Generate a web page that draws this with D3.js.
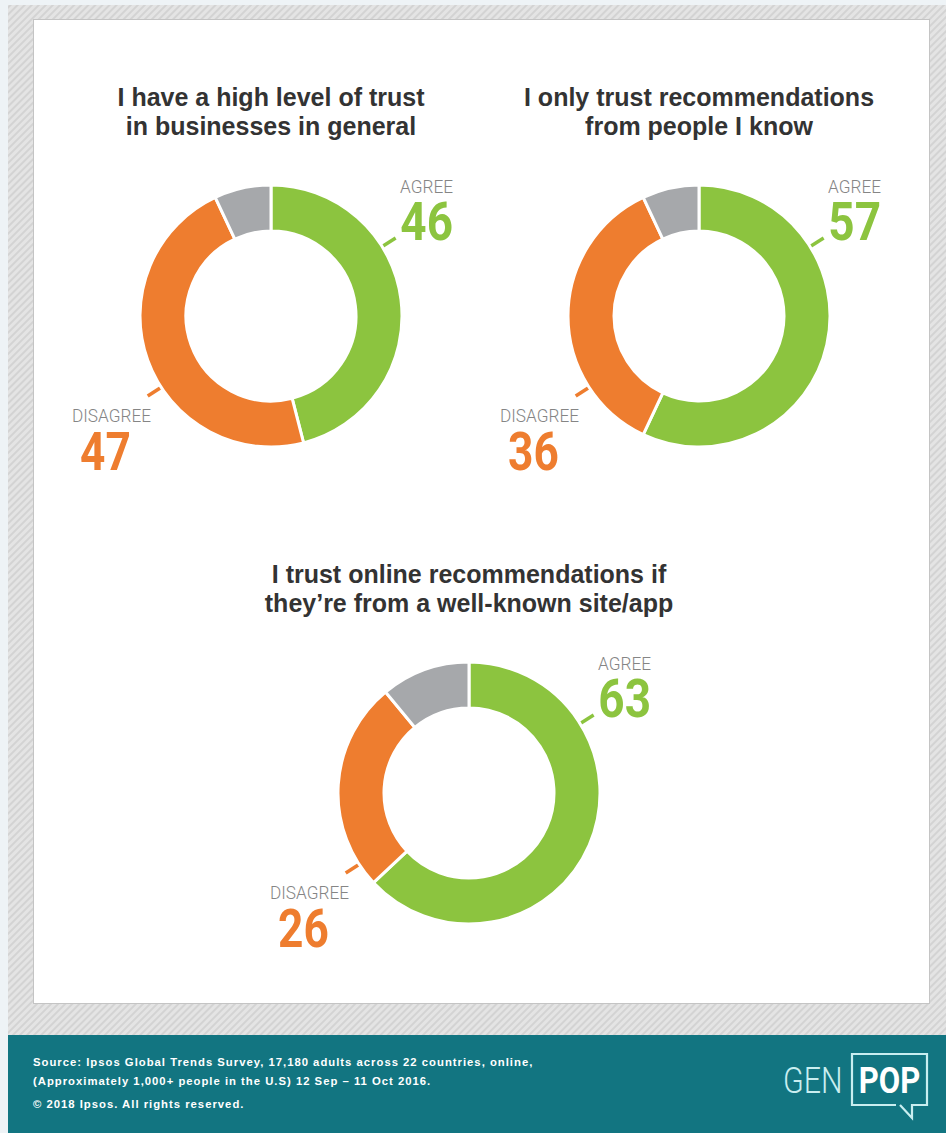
<!DOCTYPE html>
<html>
<head>
<meta charset="utf-8">
<script src="https://cdn.jsdelivr.net/npm/d3@7"></script>
<style>
  html, body { margin: 0; padding: 0; background: #eef3f6; }
  svg { display: block; }
</style>
</head>
<body>
<div id="chart"></div>
<script>
// Survey statements and their answer shares (percent)
const questions = [
  ["I have a high level of trust", "in businesses in general"],
  ["I only trust recommendations", "from people I know"],
  ["I trust online recommendations if", "they\u2019re from a well-known site/app"]
];
const agreeValues = [46, 57, 63];
const disagreeValues = [47, 36, 26];
const otherValues = [7, 7, 11];
const answerKeys = ["agree", "disagree", "other"];
const answerLabels = { agree: "AGREE", disagree: "DISAGREE" };

const sourceLines = [
  "Source: Ipsos Global Trends Survey, 17,180 adults across 22 countries, online,",
  "(Approximately 1,000+ people in the U.S) 12 Sep \u2013 11 Oct 2016."
];
const copyrightLine = "\u00a9 2018 Ipsos. All rights reserved.";

const W = 946, H = 1133;
const colors = { agree: "#8cc43f", disagree: "#ee7d2f", other: "#a6a8ab" };
const color = d3.scaleOrdinal().domain(answerKeys).range(answerKeys.map(k => colors[k]));

const svg = d3.select("#chart").append("svg")
  .attr("width", W).attr("height", H);

// Hatched backdrop
const defs = svg.append("defs");
const pat = defs.append("pattern")
  .attr("id", "hatch").attr("width", 5).attr("height", 5)
  .attr("patternUnits", "userSpaceOnUse")
  .attr("patternTransform", "rotate(45)");
pat.append("rect").attr("width", 5).attr("height", 5).attr("fill", "#e4e4e4");
pat.append("line").attr("x1", 1).attr("y1", 0).attr("x2", 1).attr("y2", 5)
  .attr("stroke", "#d3d3d3").attr("stroke-width", 2);

svg.append("rect").attr("x", 0).attr("y", 0).attr("width", W).attr("height", H).attr("fill", "#eef3f6");
svg.append("rect").attr("x", 8).attr("y", 5).attr("width", W - 8).attr("height", 1035 - 5).attr("fill", "url(#hatch)");

// White card
svg.append("rect")
  .attr("x", 33.5).attr("y", 19.5).attr("width", 896).attr("height", 984)
  .attr("fill", "#ffffff").attr("stroke", "#c4c4c4").attr("stroke-width", 1);

// Footer band
svg.append("rect").attr("x", 8).attr("y", 1035).attr("width", W - 8).attr("height", H - 1035).attr("fill", "#127581");

// Donuts
const layout = [
  { cx: 271, cy: 316 },
  { cx: 699, cy: 316 },
  { cx: 469, cy: 793 }
];
const outerR = 131, innerR = 85;
const arc = d3.arc().innerRadius(innerR).outerRadius(outerR);
const pie = d3.pie().sort(null).value(d => d.value);
const leaderAngle = { agree: 58 * Math.PI / 180, disagree: 237 * Math.PI / 180 };

const titleFont = "'Liberation Sans', Arial, Helvetica, sans-serif";
const condFont = "Roboto, 'Liberation Sans', sans-serif";

questions.forEach((q, i) => {
  const { cx, cy } = layout[i];
  const data = [
    { key: "agree", value: agreeValues[i] },
    { key: "disagree", value: disagreeValues[i] },
    { key: "other", value: otherValues[i] }
  ];
  const g = svg.append("g").attr("transform", `translate(${cx},${cy})`);

  // title
  const title = svg.append("text")
    .attr("x", cx).attr("y", cy - 210)
    .attr("text-anchor", "middle")
    .attr("font-family", titleFont).attr("font-weight", "bold")
    .attr("font-size", 25).attr("fill", "#333333");
  q.forEach((line, j) => {
    title.append("tspan").attr("x", cx).attr("dy", j === 0 ? 0 : 29).text(line);
  });

  // leader ticks
  ["agree", "disagree"].forEach(k => {
    const a = leaderAngle[k];
    g.append("line")
      .attr("x1", Math.sin(a) * (outerR - 4)).attr("y1", -Math.cos(a) * (outerR - 4))
      .attr("x2", Math.sin(a) * (outerR + 16)).attr("y2", -Math.cos(a) * (outerR + 16))
      .attr("stroke", color(k)).attr("stroke-width", 3.5);
  });

  // slices
  g.selectAll("path.slice").data(pie(data)).join("path")
    .attr("class", "slice")
    .attr("d", arc)
    .attr("fill", d => color(d.data.key))
    .attr("stroke", "#ffffff").attr("stroke-width", 3);

  // agree label (right-aligned, upper right)
  const agreeG = g.append("g").attr("transform", `translate(182,0)`);
  agreeG.append("text")
    .attr("transform", "translate(0,-123) scale(0.93,1)")
    .attr("text-anchor", "end")
    .attr("font-family", condFont).attr("font-weight", 300)
    .attr("font-size", 18.5).attr("fill", "#858585")
    .text(answerLabels.agree);
  agreeG.append("text")
    .attr("transform", "translate(0,-76) scale(0.85,1)")
    .attr("text-anchor", "end")
    .attr("font-family", condFont).attr("font-weight", "bold")
    .attr("font-size", 54).attr("fill", color("agree"))
    .text(agreeValues[i]);

  // disagree label (left-aligned, lower left)
  const disG = g.append("g").attr("transform", `translate(-199,0)`);
  disG.append("text")
    .attr("transform", "translate(0,106) scale(0.93,1)")
    .attr("text-anchor", "start")
    .attr("font-family", condFont).attr("font-weight", 300)
    .attr("font-size", 18.5).attr("fill", "#858585")
    .text(answerLabels.disagree);
  disG.append("text")
    .attr("transform", "translate(8,154) scale(0.82,1)")
    .attr("text-anchor", "start")
    .attr("font-family", condFont).attr("font-weight", "bold")
    .attr("font-size", 54).attr("fill", color("disagree"))
    .text(disagreeValues[i]);
});

// Footer text
const footAttrs = sel => sel
  .attr("font-family", titleFont).attr("font-weight", "bold")
  .attr("font-size", 11.3).attr("letter-spacing", 1.0).attr("fill", "#ffffff");
const foot = svg.append("text").call(footAttrs);
sourceLines.forEach((line, j) => {
  foot.append("tspan").attr("x", 33).attr("y", 1066 + j * 18.5).text(line);
});
svg.append("text").call(footAttrs)
  .attr("x", 33).attr("y", 1108)
  .text(copyrightLine);

// GEN POP mark
const logo = svg.append("g");
const logoInk = "#c9eef0";
logo.append("text")
  .attr("transform", "translate(783,1093) scale(0.82,1)")
  .attr("font-family", condFont).attr("font-weight", 300)
  .attr("font-size", 37).attr("fill", logoInk)
  .text("GEN");
logo.append("path")
  .attr("d", "M896,1105 L852,1105 L852,1054 L927,1054 L927,1105 L912,1105 L912,1118 L900,1105")
  .attr("fill", "none").attr("stroke", logoInk).attr("stroke-width", 2.2)
  .attr("stroke-linejoin", "miter");
logo.append("text")
  .attr("transform", "translate(889.5,1093) scale(0.84,1)")
  .attr("text-anchor", "middle")
  .attr("font-family", condFont).attr("font-weight", "bold")
  .attr("font-size", 37).attr("fill", "#ffffff")
  .text("POP");
</script>
</body>
</html>
